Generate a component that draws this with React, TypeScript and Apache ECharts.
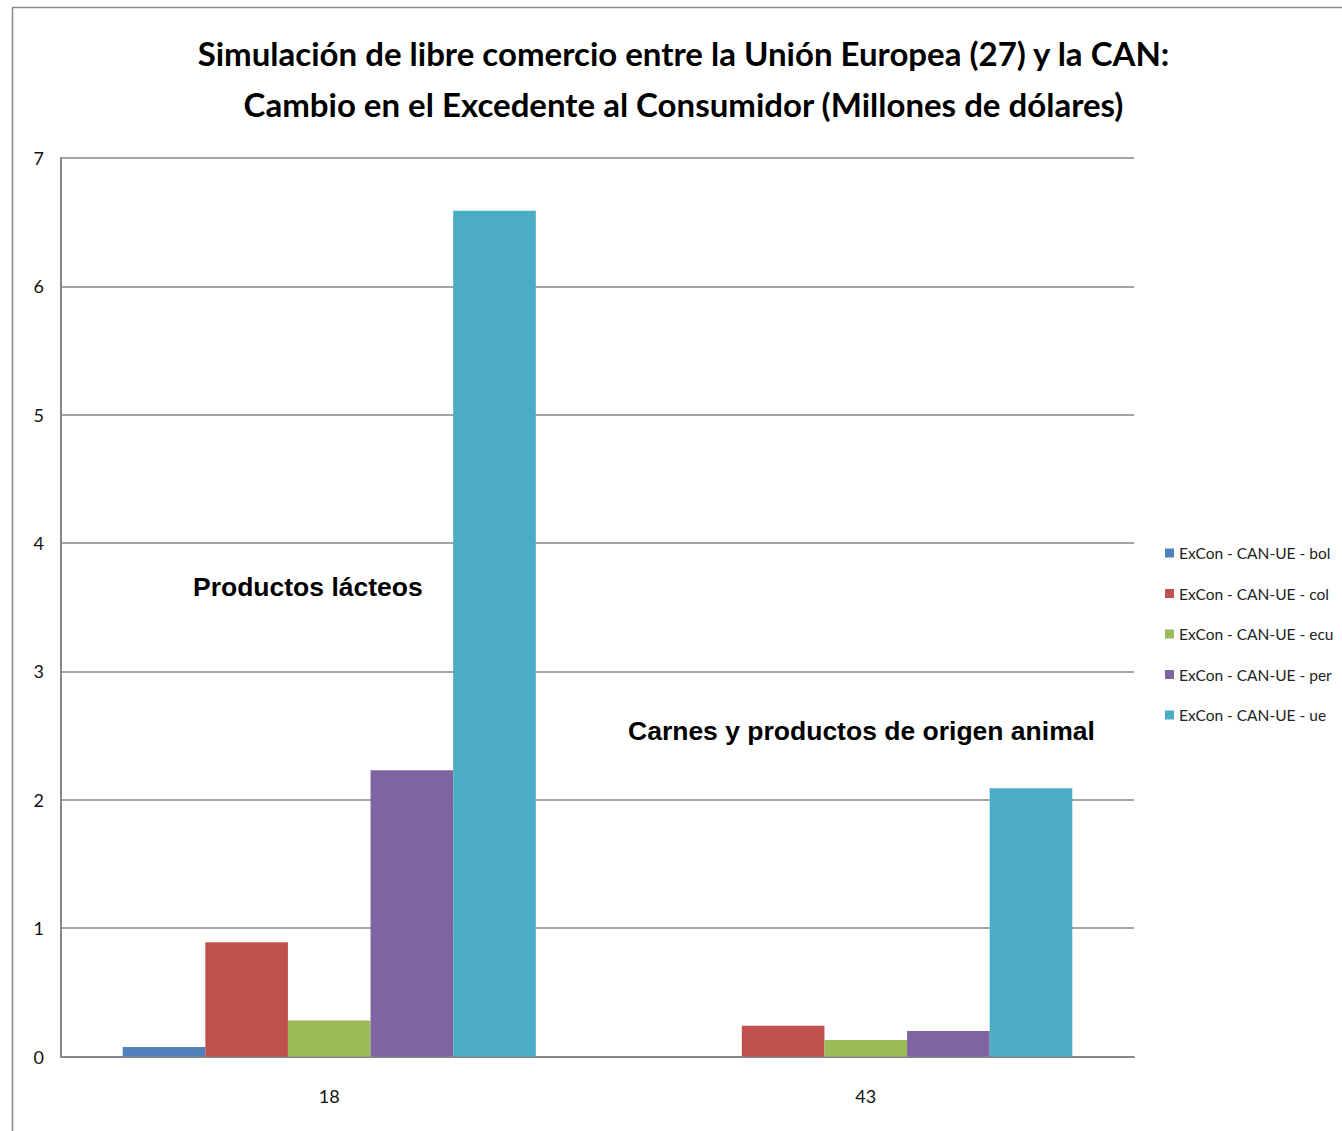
import React, { useEffect, useRef } from "react";
import * as echarts from "echarts";

const categories = ["18", "43"];
const seriesNames = [
  "ExCon - CAN-UE - bol",
  "ExCon - CAN-UE - col",
  "ExCon - CAN-UE - ecu",
  "ExCon - CAN-UE - per",
  "ExCon - CAN-UE - ue",
];
const bolValues = [0.074, 0];
const colValues = [0.89, 0.24];
const ecuValues = [0.28, 0.128];
const perValues = [2.23, 0.198];
const ueValues = [6.59, 2.09];
const seriesValues = [bolValues, colValues, ecuValues, perValues, ueValues];
const colors = ["#4F81BD", "#C0504D", "#9BBB59", "#8064A2", "#4BACC6"];
const yTicks = { min: 0, max: 7, interval: 1 };
const titleLines = [
  "Simulación de libre comercio entre la Unión Europea (27) y la CAN:",
  "Cambio en el Excedente al Consumidor (Millones de dólares)",
];
const annotations = ["Productos lácteos", "Carnes y productos de origen animal"];

export default function App() {
  const ref = useRef<HTMLDivElement>(null);
  useEffect(() => {
    document.body.style.margin = "0";
    const chart = echarts.init(ref.current!, null, { renderer: "svg" });
    chart.setOption({
      animation: false,
      backgroundColor: "#ffffff",
      grid: { left: 61, right: 208, top: 158, bottom: 74.5 },
      legend: {
        orient: "vertical",
        left: 1165,
        top: 545,
        padding: 0,
        itemWidth: 9,
        itemHeight: 9,
        itemGap: 24.5,
        icon: "rect",
        data: seriesNames,
        textStyle: { fontFamily: "Lato", fontSize: 15.5, color: "#222", lineHeight: 16 },
      },
      xAxis: {
        type: "category",
        data: categories,
        axisLine: { lineStyle: { color: "#868686", width: 2 } },
        axisTick: { show: false },
        axisLabel: { fontFamily: "Lato", fontSize: 18, color: "#111", margin: 30 },
      },
      yAxis: {
        type: "value",
        min: yTicks.min,
        max: yTicks.max,
        interval: yTicks.interval,
        axisLine: { show: true, lineStyle: { color: "#868686", width: 2 } },
        axisTick: { show: false },
        splitLine: { lineStyle: { color: "#868686", width: 1.5 } },
        axisLabel: { fontFamily: "Lato", fontSize: 18, color: "#111", margin: 17 },
      },
      series: seriesNames.map((name, i) => ({
        name,
        type: "bar",
        data: seriesValues[i],
        barGap: "0%",
        barCategoryGap: "23%",
        itemStyle: { color: colors[i] },
      })),
      graphic: [
        {
          type: "rect",
          shape: { x: 12.5, y: 7.5, width: 1400, height: 1200 },
          style: { fill: "none", stroke: "#888888", lineWidth: 1.5 },
          silent: true,
        },
        {
          type: "text",
          x: 683.5,
          y: 53,
          style: {
            text: titleLines[0],
            font: "bold 33px Lato",
            fill: "#000",
            align: "center",
            verticalAlign: "middle",
          },
        },
        {
          type: "text",
          x: 683.5,
          y: 104,
          style: {
            text: titleLines[1],
            font: "bold 33px Lato",
            fill: "#000",
            align: "center",
            verticalAlign: "middle",
          },
        },
        {
          type: "text",
          x: 193,
          y: 587,
          style: {
            text: annotations[0],
            font: "bold 26.5px 'Liberation Sans'",
            fill: "#000",
            align: "left",
            verticalAlign: "middle",
          },
        },
        {
          type: "text",
          x: 628,
          y: 731,
          style: {
            text: annotations[1],
            font: "bold 26.5px 'Liberation Sans'",
            fill: "#000",
            align: "left",
            verticalAlign: "middle",
          },
        },
      ],
    });
    return () => chart.dispose();
  }, []);
  return <div ref={ref} style={{ width: 1342, height: 1131 }} />;
}
